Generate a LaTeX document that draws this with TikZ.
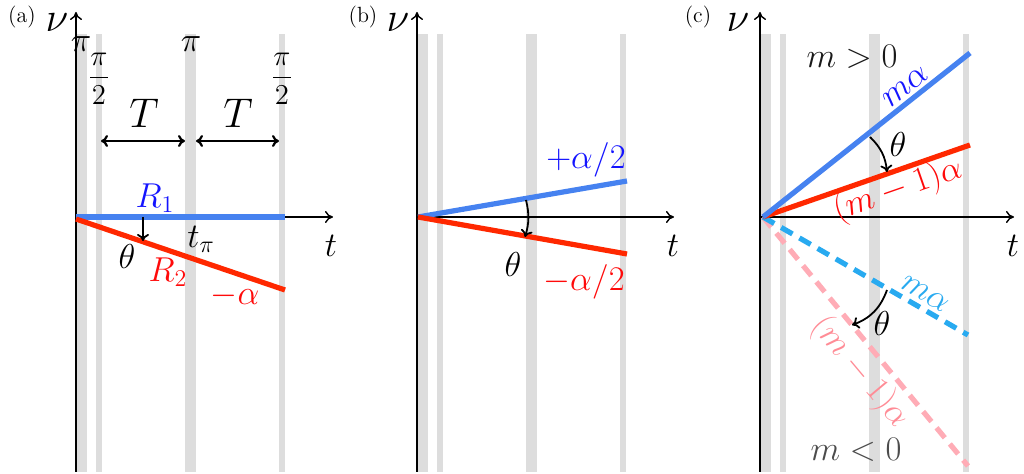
\documentclass[tikz,border=0pt]{standalone}
\usetikzlibrary{arrows.meta}
\definecolor{lblue}{RGB}{70,130,240}
\definecolor{lred}{RGB}{255,40,0}
\definecolor{bandc}{RGB}{221,221,221}
\definecolor{dblue}{RGB}{40,170,240}
\definecolor{dpink}{RGB}{255,172,182}
\definecolor{tblue}{RGB}{20,20,255}
\definecolor{tred}{RGB}{255,10,10}
\definecolor{tpink}{RGB}{255,140,150}
\definecolor{tcyan}{RGB}{40,170,240}
\begin{document}
\begin{tikzpicture}[x=0.5pt,y=-0.5pt,
  font=\fontsize{18}{21}\selectfont,
  axis/.style={line width=0.7pt,-{To[length=4pt,width=6pt]}},
  thick line/.style={line width=2.6pt},
  dashline/.style={line width=2.6pt,dash pattern=on 6.5pt off 4pt},
  dblarrow/.style={line width=1.1pt,{To[length=3.5pt,width=6pt]}-{To[length=3.5pt,width=6pt]}},
  tharrow/.style={line width=0.9pt,-{To[length=3.5pt,width=6pt]}},
  plabel/.style={font=\fontsize{11}{13}\selectfont},
  numax/.style={font=\fontsize{19.5}{22}\selectfont},
  fraclab/.style={font=\fontsize{14}{16}\selectfont},
  biglab/.style={font=\fontsize{20}{23}\selectfont},
  lab/.style={inner sep=0pt}]
\useasboundingbox (0,0) rectangle (1024,474);
% bands
\foreach \dx in {0,341,684}{
  \fill[bandc] (76+\dx,34) rectangle (87+\dx,472);
  \fill[bandc] (96+\dx,34) rectangle (102+\dx,472);
  \fill[bandc] (185+\dx,34) rectangle (196+\dx,472);
  \fill[bandc] (279+\dx,34) rectangle (285+\dx,472);
}
% ---------------- panel (a)
\coordinate (aO) at (76,217);
\coordinate (aB) at (76,472);
\coordinate (aT) at (76,12);
\coordinate (aR) at (333,217);
\draw[axis] (aB) -- (aT);
\draw[axis] (aO) -- (aR);
\node[plabel,lab] (alab) at (22,17) {(a)};
\node[numax,lab] (anu) at (57,23) {$\nu$};
\node[lab] (at) at (331,246) {$t$};
\node[lab] (api1) at (81,44) {$\pi$};
\node[lab] (api2) at (191,44) {$\pi$};
\node[fraclab,lab] (afr1) at (99,79) {$\displaystyle\frac{\pi}{2}$};
\node[fraclab,lab] (afr2) at (282,79) {$\displaystyle\frac{\pi}{2}$};
\node[biglab,lab] (aT1) at (144,113) {$T$};
\node[biglab,lab] (aT2) at (238,113) {$T$};
\coordinate (d1) at (101,141);
\coordinate (d2) at (185,141);
\coordinate (d3) at (196,141);
\coordinate (d4) at (279,141);
\draw[dblarrow] (d1) -- (d2);
\draw[dblarrow] (d3) -- (d4);
\coordinate (aR1e) at (285,217);
\coordinate (aR2s) at (76,219);
\coordinate (aR2e) at (285,290);
\draw[thick line,lblue] (aO) -- (aR1e);
\draw[thick line,lred] (aR2s) -- (aR2e);
\node[lab,tblue] (aR1) at (155,198) {$R_1$};
\node[lab,tred] (aR2) at (168,272) {$R_2$};
\node[lab,tred] (aal) at (235,296) {$-\alpha$};
\node[lab] (atp) at (201,239) {$t_\pi$};
\node[lab] (ath) at (127,257) {$\theta$};
\coordinate (ath1) at (143,217);
\coordinate (ath2) at (143,241);
\draw[tharrow] (ath1) -- (ath2);
% ---------------- panel (b)
\coordinate (bO) at (417,217);
\coordinate (bB) at (417,472);
\coordinate (bT) at (417,12);
\coordinate (bR) at (674,217);
\draw[axis] (bB) -- (bT);
\draw[axis] (bO) -- (bR);
\node[plabel,lab] (blab) at (363,17) {(b)};
\node[numax,lab] (bnu) at (398,23) {$\nu$};
\node[lab] (bt) at (673,246) {$t$};
\coordinate (bS) at (418,217);
\coordinate (bBe) at (627,181);
\coordinate (bRe) at (627,254);
\draw[thick line,lblue] (bS) -- (bBe);
\draw[thick line,lred] (bS) -- (bRe);
\node[lab,tblue] (bpl) at (586,160) {$+\alpha/2$};
\node[lab,tred] (bmi) at (584,282) {$-\alpha/2$};
\node[lab] (bth) at (513,265) {$\theta$};
\coordinate (bth1) at (526,200);
\coordinate (bth2) at (525,237);
\draw[tharrow] (bth1) to[bend left=15] (bth2);
% ---------------- panel (c)
\coordinate (cO) at (760,217);
\coordinate (cB) at (760,472);
\coordinate (cT) at (760,12);
\coordinate (cR) at (1014,217);
\draw[axis] (cB) -- (cT);
\draw[axis] (cO) -- (cR);
\node[plabel,lab] (clab) at (698,17) {(c)};
\node[numax,lab] (cnu) at (738,23) {$\nu$};
\node[lab] (ct) at (1013,246) {$t$};
\coordinate (cS) at (763,217);
\coordinate (cBe) at (970,53);
\coordinate (cRe) at (970,145);
\coordinate (cDBe) at (968,335);
\coordinate (cDPe) at (968,466);
\draw[dashline,dpink] (cS) -- (cDPe);
\draw[dashline,dblue] (cS) -- (cDBe);
\draw[thick line,lred] (cS) -- (cRe);
\draw[thick line,lblue] (cS) -- (cBe);
\node[lab,black!90] (cmp) at (852,57) {$m>0$};
\node[lab,black!70] (cmn) at (856,450) {$m<0$};
\node[lab,tblue,rotate=38.4] (cma) at (906,87) {$m\alpha$};
\node[lab,tred,rotate=19.2] (cm1a) at (898,190) {$(m-1)\alpha$};
\node[lab,tcyan,rotate=-29.7] (cdma) at (925,294) {$m\alpha$};
\node[lab,tpink,rotate=-50] (cdm1a) at (860,372) {$(m-1)\alpha$};
\node[lab] (cth1) at (898,145) {$\theta$};
\node[lab] (cth2) at (882,324) {$\theta$};
\coordinate (c1s) at (870,137);
\coordinate (c1e) at (887,172);
\draw[tharrow] (c1s) to[bend left=20] (c1e);
\coordinate (c2s) at (887,290);
\coordinate (c2e) at (852,325);
\draw[tharrow] (c2s) to[bend left=25] (c2e);
\end{tikzpicture}
\end{document}
